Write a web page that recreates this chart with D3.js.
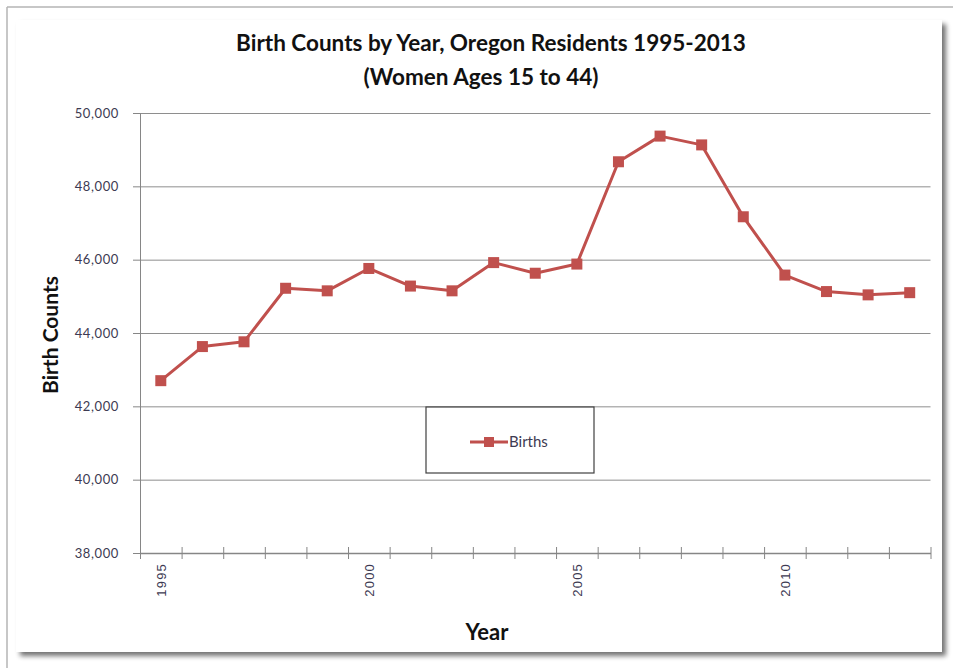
<!DOCTYPE html>
<html>
<head>
<meta charset="utf-8">
<script src="https://cdn.jsdelivr.net/npm/d3@7"></script>
<style>
  body { margin: 0; background: #fff; }
  .gridline line { stroke: #8e8e8e; stroke-width: 1; }
  .gridline path { display: none; }
  .yAxis text { font-family: Lato, "Open Sans", sans-serif; font-size: 13px; fill: #3d3a52; letter-spacing: 0.6px; }
  .xLabel { font-family: "Liberation Sans", Arial, sans-serif; font-size: 13px; fill: #3d3a52; letter-spacing: 1.2px; }
  .title { font-family: Lato, "Open Sans", sans-serif; font-weight: 700; fill: #111; }
</style>
</head>
<body>
<div id="chart"></div>
<script>
// Data
var years = [1995, 1996, 1997, 1998, 1999, 2000, 2001, 2002, 2003, 2004,
             2005, 2006, 2007, 2008, 2009, 2010, 2011, 2012, 2013];
var births = [42700, 43630, 43760, 45220, 45150, 45760, 45280, 45150, 45920, 45630,
              45880, 48670, 49370, 49130, 47170, 45580, 45130, 45040, 45100];
var yTicks = [38000, 40000, 42000, 44000, 46000, 48000, 50000];
var labelYears = [1995, 2000, 2005, 2010];

var width = 953;
var height = 668;

var svg = d3.select("#chart")
  .append("svg")
  .attr("width", width)
  .attr("height", height);

// outer frame + chart box with shadow
svg.append("line").attr("x1", 7).attr("y1", 7).attr("x2", width).attr("y2", 7)
  .attr("stroke", "#b4b4b4").attr("stroke-width", 1.5);
svg.append("line").attr("x1", 7).attr("y1", 7).attr("x2", 7).attr("y2", height)
  .attr("stroke", "#b4b4b4").attr("stroke-width", 1.5);

var defs = svg.append("defs");
var blur = defs.append("filter").attr("id", "shadow")
  .attr("x", "-5%").attr("y", "-5%").attr("width", "115%").attr("height", "115%");
blur.append("feGaussianBlur").attr("in", "SourceAlpha").attr("stdDeviation", 2.5);
blur.append("feOffset").attr("dx", 4).attr("dy", 4).attr("result", "off");
blur.append("feComponentTransfer").append("feFuncA").attr("type", "linear").attr("slope", 0.55);
var merge = blur.append("feMerge");
merge.append("feMergeNode");
merge.append("feMergeNode").attr("in", "SourceGraphic");

svg.append("rect")
  .attr("x", 16).attr("y", 20)
  .attr("width", 926).attr("height", 632)
  .attr("fill", "#fff")
  .attr("filter", "url(#shadow)");

// Scales
var plotLeft = 140, plotRight = 930.5, plotTop = 113, plotBottom = 553;

var xScale = d3.scaleBand()
  .domain(years)
  .range([plotLeft, plotRight])
  .padding(0);

var xEdge = d3.scaleLinear()
  .domain([0, years.length])
  .range([plotLeft, plotRight]);

var yScale = d3.scaleLinear()
  .domain([38000, 50000])
  .range([plotBottom, plotTop]);

// Gridlines
svg.append("g")
  .attr("class", "gridline")
  .attr("transform", "translate(" + plotLeft + ",0)")
  .call(d3.axisLeft(yScale).tickValues(yTicks.slice(1)).tickSize(-(plotRight - plotLeft)).tickFormat(""));

// Y axis
var yAxis = svg.append("g")
  .attr("class", "yAxis")
  .attr("transform", "translate(" + plotLeft + ",0)")
  .call(d3.axisLeft(yScale).tickValues(yTicks).tickSize(7).tickPadding(14)
    .tickFormat(d3.format(",")));
yAxis.select(".domain").attr("stroke", "#868686");
yAxis.selectAll(".tick line").attr("stroke", "#868686");

// X axis (ticks between categories)
var xAxis = svg.append("g")
  .attr("class", "xAxis")
  .attr("transform", "translate(0," + plotBottom + ")")
  .call(d3.axisBottom(xEdge).tickValues(d3.range(years.length + 1)).tickSizeInner(6)
    .tickSizeOuter(0).tickFormat(""));
xAxis.select(".domain").attr("stroke", "#868686").attr("stroke-width", 1.5);
xAxis.selectAll(".tick line").attr("stroke", "#868686").attr("y1", -6);

svg.selectAll(".xLabel")
  .data(labelYears)
  .enter()
  .append("text")
  .attr("class", "xLabel")
  .attr("text-anchor", "end")
  .attr("transform", function(d) {
    return "translate(" + (xScale(d) + xScale.bandwidth() / 2 + 5) + "," + (plotBottom + 10) + ")rotate(-90)";
  })
  .text(function(d) { return d; });

// Series line + markers
var line = d3.line()
  .x(function(d, i) { return xScale(years[i]) + xScale.bandwidth() / 2; })
  .y(function(d) { return yScale(d); });

svg.append("path")
  .datum(births)
  .attr("d", line)
  .attr("fill", "none")
  .attr("stroke", "#c0504d")
  .attr("stroke-width", 3)
  .attr("stroke-linejoin", "round");

var msize = 11;
svg.selectAll(".marker")
  .data(births)
  .enter()
  .append("rect")
  .attr("class", "marker")
  .attr("x", function(d, i) { return xScale(years[i]) + xScale.bandwidth() / 2 - msize / 2; })
  .attr("y", function(d) { return yScale(d) - msize / 2; })
  .attr("width", msize)
  .attr("height", msize)
  .attr("fill", "#c0504d");

// Titles
svg.append("text").attr("class", "title")
  .attr("x", 491).attr("y", 51)
  .attr("text-anchor", "middle").attr("font-size", 22.5)
  .text("Birth Counts by Year, Oregon Residents 1995-2013");
svg.append("text").attr("class", "title")
  .attr("x", 481).attr("y", 85)
  .attr("text-anchor", "middle").attr("font-size", 22.5)
  .text("(Women Ages 15 to 44)");
svg.append("text").attr("class", "title")
  .attr("x", 487).attr("y", 640)
  .attr("text-anchor", "middle").attr("font-size", 22)
  .text("Year");
svg.append("text").attr("class", "title")
  .attr("text-anchor", "middle").attr("font-size", 21)
  .attr("transform", "translate(58,335)rotate(-90)")
  .text("Birth Counts");

// Legend
var legend = svg.append("g").attr("transform", "translate(426,407)");
legend.append("rect")
  .attr("width", 168).attr("height", 66)
  .attr("fill", "#fff").attr("stroke", "#404040").attr("stroke-width", 1.2);
legend.append("line")
  .attr("x1", 44).attr("x2", 82).attr("y1", 35).attr("y2", 35)
  .attr("stroke", "#c0504d").attr("stroke-width", 3);
legend.append("rect")
  .attr("x", 58).attr("y", 30).attr("width", 10).attr("height", 10)
  .attr("fill", "#c0504d");
legend.append("text")
  .attr("x", 83).attr("y", 40)
  .attr("font-family", "Lato, 'Open Sans', sans-serif").attr("font-size", 15)
  .attr("fill", "#3d3a52")
  .text("Births");
</script>
</body>
</html>
